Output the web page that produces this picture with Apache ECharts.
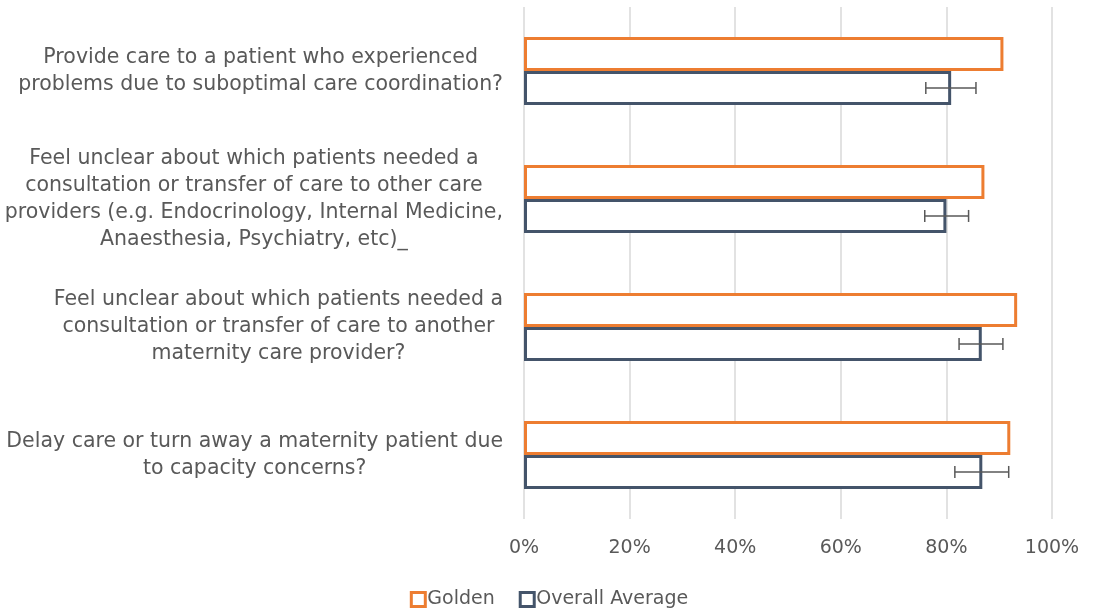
<!DOCTYPE html>
<html>
<head>
<meta charset="utf-8">
<title>Care coordination</title>
<script src="https://cdn.jsdelivr.net/npm/echarts@6/dist/echarts.min.js"></script>
<style>
  html, body { margin: 0; padding: 0; background: #fff; }
  #main { width: 1098px; height: 611px; }
</style>
</head>
<body>
<div id="main"></div>
<script>
// questions, top to bottom
var categories = [
  'Provide care to a patient who experienced\nproblems due to suboptimal care coordination?',
  'Feel unclear about which patients needed a\nconsultation or transfer of care to other care\nproviders (e.g. Endocrinology, Internal Medicine,\nAnaesthesia, Psychiatry, etc)_',
  'Feel unclear about which patients needed a\nconsultation or transfer of care to another\nmaternity care provider?',
  'Delay care or turn away a maternity patient due\nto capacity concerns?'
]
var golden = [90.8, 87.2, 93.4, 92.1]
var overall = [80.9, 80.0, 86.7, 86.8]
// error bar ends for overall average
var errLow = [76.1, 75.9, 82.4, 81.6]
var errHigh = [85.6, 84.2, 90.7, 91.8]

var FONT = '"DejaVu Sans", sans-serif'
var TXT = '#595959'
var CAT_GAP = 47 // percent

var errData = []
for (var i = 0; i < categories.length; i++) {
  errData.push([i, errLow[i], errHigh[i]])
}

var chart = echarts.init(document.getElementById('main'))

chart.setOption({
  animation: false,
  textStyle: { fontFamily: FONT },
  grid: { left: 524, right: 46, top: 7, bottom: 92, containLabel: false },
  legend: {
    data: ['Golden', 'Overall Average'],
    bottom: -3,
    left: 'center',
    icon: 'rect',
    itemWidth: 14,
    itemHeight: 14,
    itemGap: 24,
    itemStyle: { borderWidth: 3 },
    textStyle: { fontFamily: FONT, fontSize: 19, color: TXT, padding: [0, 0, 0, -3] }
  },
  xAxis: {
    type: 'value',
    min: 0,
    max: 100,
    interval: 20,
    axisLine: { show: false },
    axisTick: { show: false },
    axisLabel: {
      formatter: '{value}%',
      color: TXT,
      fontFamily: FONT,
      fontSize: 19,
      margin: 20
    },
    splitLine: { show: true, lineStyle: { color: '#D9D9D9', width: 1.5 } }
  },
  yAxis: {
    type: 'category',
    inverse: true,
    data: categories,
    axisLine: { show: false },
    axisTick: { show: false },
    axisLabel: {
      margin: 21,
      align: 'right',
      formatter: function (v) {
        // each line centred inside a right-aligned block, like the original
        return v.split('\n').map(function (l) { return '{c|' + l + '}' }).join('\n')
      },
      rich: {
        c: { align: 'center', fontSize: 20.5, lineHeight: 27, color: TXT, fontFamily: FONT }
      }
    }
  },
  series: [
    {
      name: 'Golden',
      type: 'bar',
      z: 3,
      barGap: '0%',
      barCategoryGap: CAT_GAP + '%',
      itemStyle: { color: '#fff', borderColor: '#ED7D31', borderWidth: 3 },
      data: golden
    },
    {
      name: 'Overall Average',
      type: 'bar',
      z: 2,
      itemStyle: { color: '#fff', borderColor: '#44546A', borderWidth: 3 },
      data: overall
    },
    {
      name: 'err',
      type: 'custom',
      z: 4,
      data: errData,
      encode: { y: 0, x: [1, 2] },
      renderItem: function (params, api) {
        var band = api.size([0, 1])[1]
        var off = band * (1 - CAT_GAP / 100) / 4 // centre of 2nd bar
        var lo = api.coord([api.value(1), api.value(0)])
        var hi = api.coord([api.value(2), api.value(0)])
        var y = lo[1] + off
        var cap = 6
        var st = { stroke: '#595959', lineWidth: 1.5 }
        return {
          type: 'group',
          children: [
            { type: 'line', shape: { x1: lo[0], y1: y, x2: hi[0], y2: y }, style: st },
            { type: 'line', shape: { x1: lo[0], y1: y - cap, x2: lo[0], y2: y + cap }, style: st },
            { type: 'line', shape: { x1: hi[0], y1: y - cap, x2: hi[0], y2: y + cap }, style: st }
          ]
        }
      }
    }
  ]
})
</script>
</body>
</html>
